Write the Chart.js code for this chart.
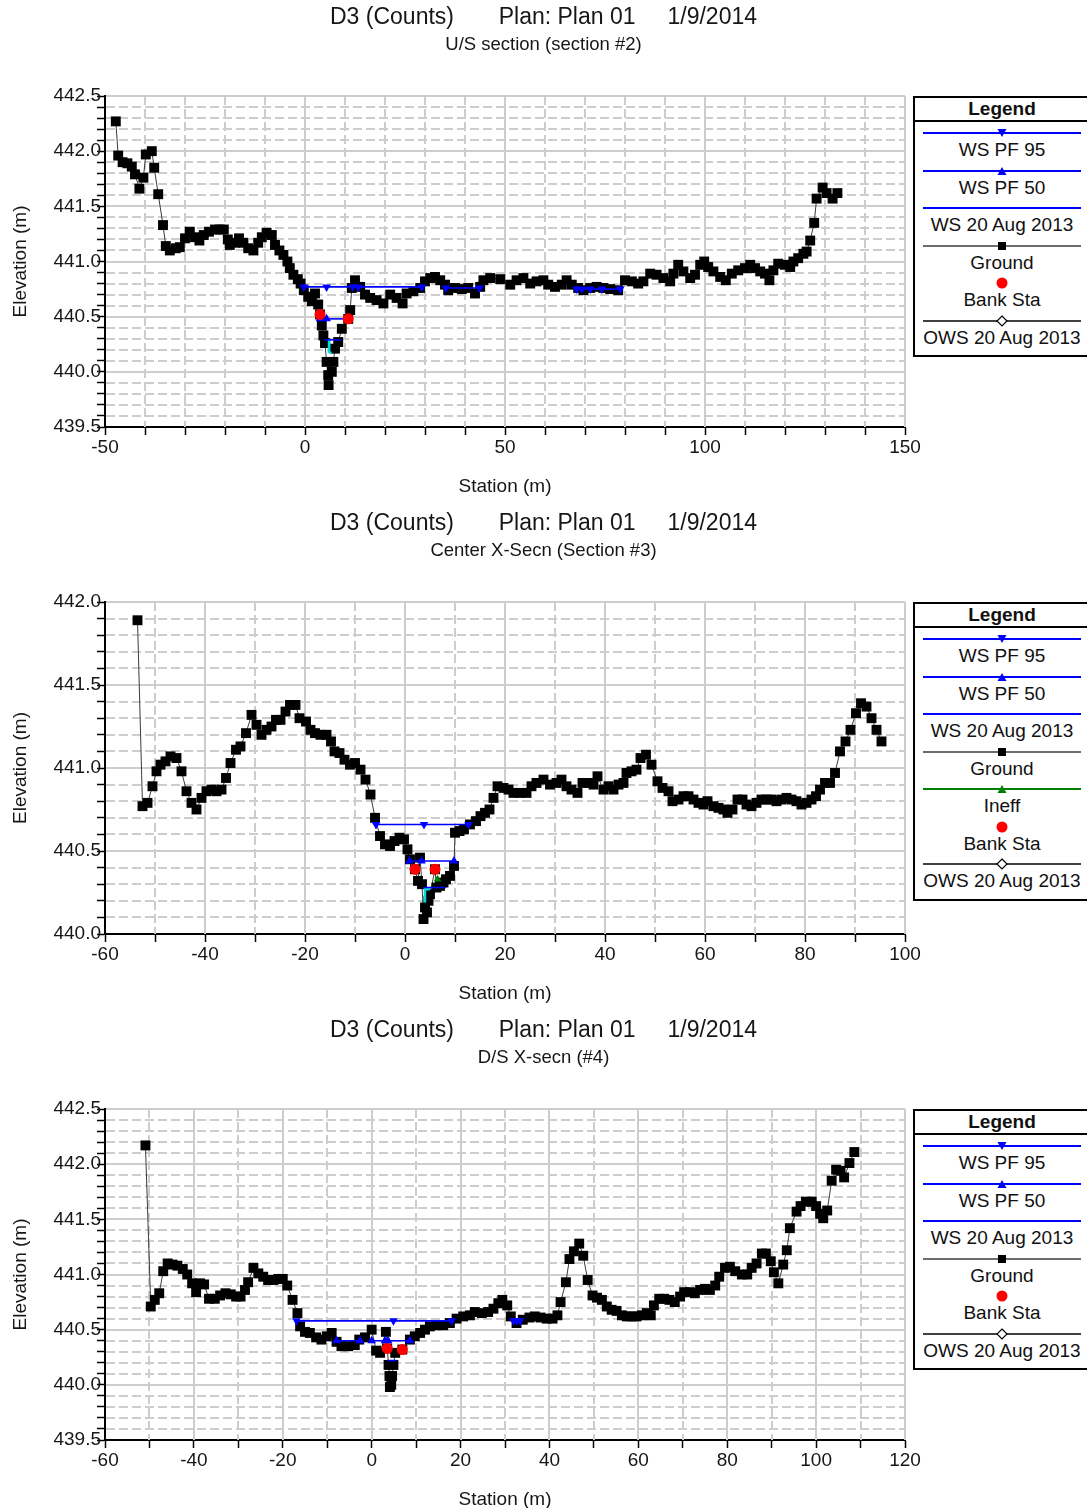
<!DOCTYPE html>
<html>
<head>
<meta charset="utf-8">
<title>D3 (Counts) - cross sections</title>
<script src="https://cdn.jsdelivr.net/npm/chart.js@4.4.1/dist/chart.umd.min.js"></script>
<style>
  html, body { margin: 0; padding: 0; background: #fff; overflow: hidden; }
  .xs { position: relative; width: 1087px; }
  .xs canvas { display: block; }
  .lgd { position: absolute; left: 913px; top: 96px; width: 174px; border: 2px solid #000; background: #fff;
         font-family: "Liberation Sans", Arial, sans-serif; color: #111; padding-bottom: 8px; }
  .lgd .hd { height: 22px; line-height: 22px; text-align: center; font-weight: bold; font-size: 19px; border-bottom: 2px solid #000; }
  .lgd .it { position: relative; height: 37.5px; }
  .lgd svg { position: absolute; left: 8px; top: 5px; }
  .lgd .tx { position: absolute; left: 0; right: 0; top: 17px; line-height: 22px; text-align: center; font-size: 19px; white-space: nowrap; }
</style>
</head>
<body>
<div class="xs" style="height:506px"><canvas id="us" width="1087" height="506"></canvas><div class="lgd" id="usLegend"></div></div>
<div class="xs" style="height:507px"><canvas id="ctr" width="1087" height="507"></canvas><div class="lgd" id="ctrLegend"></div></div>
<div class="xs" style="height:506px"><canvas id="ds" width="1087" height="506"></canvas><div class="lgd" id="dsLegend"></div></div>
<script>
// ---- U/S section (section #2) ----
const us_xLabels = [-50, 0, 50, 100, 150];
const us_yLabels = [439.5, 440.0, 440.5, 441.0, 441.5, 442.0, 442.5];
const us_groundSta = [-47.3, -46.7, -45.6, -44.4, -43.3, -42.5, -41.4, -40.4, -39.8, -38.3, -37.7, -36.7, -35.5, -34.8,
  -33.8, -32.3, -31.3, -30.0, -28.8, -27.5, -26.4, -25.3, -24.0, -22.5, -21.3, -20.3, -19.3, -18.8, -17.5, -16.5, -15.4,
  -14.2, -12.9, -11.7, -10.8, -9.6, -8.3, -7.5, -6.4, -5.4, -4.4, -3.8, -2.9, -1.8, -1.1, -0.3, 0.8, 1.7, 2.5, 3.3,
  3.75, 4.2, 4.6, 5.0, 5.4, 5.8, 5.9, 6.7, 7.1, 7.5, 8.3, 9.2, 10.8, 11.3, 11.7, 12.5, 13.8, 15.0, 16.3, 17.9, 19.6,
  21.3, 22.9, 24.4, 25.4, 27.1, 28.8, 30.0, 31.3, 32.5, 33.8, 35.0, 35.8, 37.5, 39.2, 40.8, 42.5, 43.8, 44.6, 46.3,
  48.8, 51.3, 52.9, 54.6, 56.3, 57.9, 59.6, 60.8, 62.5, 64.2, 65.4, 66.7, 68.3, 69.6, 71.3, 72.9, 74.6, 76.3, 78.3,
  80.0, 81.7, 83.3, 84.6, 86.3, 87.9, 89.6, 91.3, 92.1, 93.3, 94.6, 96.3, 97.5, 98.8, 99.8, 100.8, 102.1, 103.8,
  105.2, 106.7, 108.3, 110.0, 111.3, 112.5, 113.8, 115.0, 116.1, 117.1, 118.3, 120.0, 121.3, 122.1, 123.3, 124.6,
  125.4, 126.3, 127.3, 127.9, 129.4, 130.4, 131.9, 133.1];
const us_groundElev = [442.27, 441.96, 441.90, 441.89, 441.86, 441.79, 441.66, 441.76, 441.97, 442.00, 441.85, 441.61,
  441.33, 441.14, 441.10, 441.12, 441.13, 441.21, 441.27, 441.22, 441.19, 441.24, 441.27, 441.29, 441.29, 441.29,
  441.20, 441.15, 441.17, 441.21, 441.17, 441.12, 441.10, 441.17, 441.22, 441.26, 441.24, 441.15, 441.10, 441.06,
  441.00, 440.94, 440.88, 440.84, 440.80, 440.74, 440.68, 440.64, 440.71, 440.61, 440.52, 440.42, 440.33, 440.26,
  440.09, 439.97, 439.88, 440.00, 440.09, 440.21, 440.27, 440.39, 440.48, 440.56, 440.76, 440.83, 440.77, 440.70,
  440.67, 440.65, 440.62, 440.70, 440.67, 440.62, 440.71, 440.73, 440.76, 440.82, 440.85, 440.86, 440.83, 440.79,
  440.74, 440.76, 440.75, 440.76, 440.71, 440.77, 440.83, 440.85, 440.84, 440.79, 440.83, 440.85, 440.80, 440.82,
  440.83, 440.79, 440.77, 440.79, 440.83, 440.79, 440.76, 440.74, 440.76, 440.77, 440.76, 440.75, 440.74, 440.83,
  440.82, 440.80, 440.82, 440.89, 440.88, 440.85, 440.82, 440.89, 440.97, 440.91, 440.85, 440.88, 440.97, 441.00,
  440.95, 440.91, 440.86, 440.83, 440.89, 440.92, 440.94, 440.97, 440.94, 440.91, 440.89, 440.83, 440.92, 440.98,
  440.97, 440.95, 441.00, 441.03, 441.07, 441.09, 441.19, 441.35, 441.57, 441.67, 441.62, 441.57, 441.62];
const us_ws95Sta = [-0.3, 5.4, 11.9, 13.3, 29.2, 32.0, 35.2, 43.6, 55.0, 67.9, 69.2, 71.3, 74.2, 78.8];
const us_ws95Elev = [440.77, 440.77, 440.77, 440.77, 440.77, null, 440.76, 440.76, null, 440.75, 440.75, 440.75, 440.75, 440.75];
const us_ws50Sta = [3.75, 5.4, 10.8];
const us_ws50Elev = [440.48, 440.48, 440.48];
const us_wsAugSta = [4.8, 9.0];
const us_wsAugElev = [440.29, 440.29];
const us_bankSta = [3.75, 10.8];
const us_bankElev = [440.52, 440.48];
const us_owsSta = [];
const us_owsElev = [];
const us_cyanSta = [6.1, 6.0, 6.6];
const us_cyanElev = [440.29, 440.18, 440.17];

// ---- Center X-Secn (Section #3) ----
const ctr_xLabels = [-60, -40, -20, 0, 20, 40, 60, 80, 100];
const ctr_yLabels = [440.0, 440.5, 441.0, 441.5, 442.0];
const ctr_groundSta = [-53.5, -52.5, -51.5, -50.5, -49.7, -48.9, -47.9, -46.9, -45.7, -44.7, -43.7, -42.7, -41.7,
  -40.7, -39.7, -38.7, -37.7, -36.7, -35.8, -34.9, -33.8, -32.9, -31.8, -30.7, -29.7, -28.7, -27.7, -26.7, -25.8,
  -24.9, -23.9, -23.0, -21.9, -21.1, -19.8, -18.9, -18.0, -16.9, -15.7, -14.8, -14.1, -13.1, -12.1, -11.0, -10.0,
  -8.9, -7.9, -6.9, -6.0, -5.0, -4.0, -3.0, -2.1, -1.1, -0.2, 0.5, 1.0, 2.0, 2.6, 3.0, 3.4, 3.7, 4.0, 4.4, 4.7, 5.0,
  6.0, 6.3, 7.0, 7.7, 8.2, 9.0, 9.8, 10.0, 10.9, 11.8, 13.0, 14.2, 15.1, 16.0, 16.9, 17.7, 18.5, 19.7, 20.7, 21.7,
  23.0, 24.3, 25.3, 26.3, 27.7, 29.0, 30.3, 31.3, 32.3, 33.3, 34.5, 35.5, 36.7, 37.7, 38.5, 39.7, 40.7, 41.7, 42.7,
  43.7, 44.3, 45.3, 46.3, 47.1, 48.2, 49.3, 50.5, 51.5, 52.7, 53.5, 54.7, 55.7, 56.7, 57.7, 58.7, 59.7, 60.5, 61.7,
  62.7, 63.7, 64.5, 65.5, 66.5, 67.5, 68.3, 69.3, 70.3, 71.3, 72.3, 73.3, 74.3, 75.3, 76.3, 77.3, 78.3, 79.3, 80.3,
  81.3, 82.2, 83.0, 84.0, 85.0, 86.0, 87.0, 88.1, 89.1, 90.2, 91.2, 92.3, 93.3, 94.3, 95.3];
const ctr_groundElev = [441.89, 440.77, 440.79, 440.89, 440.98, 441.02, 441.04, 441.07, 441.06, 440.98, 440.86,
  440.79, 440.75, 440.82, 440.86, 440.87, 440.86, 440.87, 440.94, 441.03, 441.11, 441.13, 441.21, 441.32, 441.26,
  441.20, 441.23, 441.25, 441.29, 441.29, 441.34, 441.38, 441.38, 441.30, 441.28, 441.23, 441.21, 441.20, 441.20,
  441.16, 441.10, 441.09, 441.05, 441.02, 441.03, 440.99, 440.93, 440.84, 440.70, 440.59, 440.54, 440.53, 440.56,
  440.58, 440.57, 440.51, 440.45, 440.39, 440.32, 440.46, 440.30, 440.09, 440.16, 440.13, 440.20, 440.24, 440.39,
  440.28, 440.29, 440.31, 440.33, 440.35, 440.41, 440.61, 440.62, 440.63, 440.66, 440.68, 440.71, 440.73, 440.75,
  440.82, 440.89, 440.88, 440.87, 440.85, 440.85, 440.85, 440.89, 440.91, 440.93, 440.90, 440.91, 440.93, 440.89,
  440.87, 440.85, 440.91, 440.91, 440.90, 440.95, 440.87, 440.89, 440.87, 440.90, 440.91, 440.97, 440.98, 440.99,
  441.06, 441.08, 441.02, 440.92, 440.88, 440.86, 440.80, 440.81, 440.83, 440.83, 440.81, 440.79, 440.78, 440.80,
  440.77, 440.76, 440.75, 440.73, 440.75, 440.81, 440.81, 440.78, 440.77, 440.79, 440.81, 440.81, 440.81, 440.80,
  440.81, 440.82, 440.81, 440.80, 440.78, 440.79, 440.81, 440.83, 440.87, 440.91, 440.91, 440.97, 441.10, 441.16,
  441.23, 441.33, 441.39, 441.37, 441.30, 441.23, 441.16];
const ctr_ws95Sta = [-5.8, 3.8, 12.7];
const ctr_ws95Elev = [440.66, 440.66, 440.66];
const ctr_ws50Sta = [0.9, 3.3, 9.8];
const ctr_ws50Elev = [440.44, 440.44, 440.44];
const ctr_wsAugSta = [3.7, 8.2];
const ctr_wsAugElev = [440.28, 440.28];
const ctr_ineffSta = [6.5];
const ctr_ineffElev = [440.33];
const ctr_bankSta = [2.0, 6.0];
const ctr_bankElev = [440.39, 440.39];
const ctr_owsSta = [];
const ctr_owsElev = [];
const ctr_cyanSta = [5.0, 4.0, 4.0];
const ctr_cyanElev = [440.27, 440.27, 440.19];

// ---- D/S X-secn (#4) ----
const ds_xLabels = [-60, -40, -20, 0, 20, 40, 60, 80, 100, 120];
const ds_yLabels = [439.5, 440.0, 440.5, 441.0, 441.5, 442.0, 442.5];
const ds_groundSta = [-50.9, -49.7, -48.8, -47.8, -46.9, -45.9, -44.8, -43.7, -42.5, -41.5, -40.4, -39.5, -38.6,
  -37.7, -36.6, -35.3, -34.1, -32.9, -31.7, -30.5, -29.5, -28.5, -27.8, -26.6, -25.5, -24.4, -23.3, -22.1, -21.0,
  -20.0, -19.0, -17.8, -16.7, -16.1, -15.0, -13.9, -12.5, -11.3, -10.1, -9.0, -7.9, -6.8, -5.3, -3.8, -2.8, -1.5,
  0.0, 1.0, 1.9, 3.2, 3.5, 3.8, 4.0, 4.1, 4.4, 4.6, 4.9, 5.3, 6.9, 8.6, 9.7, 10.9, 12.0, 13.1, 14.6, 16.1, 17.6,
  19.1, 20.6, 22.1, 23.2, 24.8, 26.2, 27.4, 28.5, 29.4, 30.5, 31.3, 32.6, 34.0, 35.5, 36.7, 38.0, 39.4, 40.7, 41.8,
  42.5, 43.7, 44.5, 45.5, 46.7, 47.6, 48.6, 49.7, 50.7, 51.8, 52.9, 54.0, 55.1, 56.3, 57.4, 58.5, 59.6, 60.8, 61.9,
  62.8, 63.5, 64.7, 65.8, 67.0, 68.2, 69.4, 70.3, 71.6, 72.7, 73.9, 75.0, 76.1, 77.3, 78.2, 79.5, 80.6, 81.8, 83.3,
  84.5, 85.5, 86.6, 87.8, 88.7, 89.8, 90.5, 91.5, 92.6, 93.4, 94.1, 95.6, 96.5, 97.7, 99.0, 100.0, 100.9, 101.6,
  102.5, 103.5, 104.5, 105.5, 106.3, 107.5, 108.6];
const ds_groundElev = [442.17, 440.71, 440.77, 440.83, 441.03, 441.10, 441.09, 441.08, 441.05, 441.00, 440.92,
  440.84, 440.92, 440.91, 440.78, 440.78, 440.81, 440.83, 440.82, 440.80, 440.80, 440.86, 440.93, 441.06, 441.01,
  440.98, 440.95, 440.95, 440.96, 440.96, 440.90, 440.77, 440.65, 440.53, 440.48, 440.47, 440.43, 440.41, 440.44,
  440.47, 440.39, 440.35, 440.35, 440.36, 440.41, 440.43, 440.50, 440.31, 440.29, 440.48, 440.33, 440.18, 440.08,
  439.98, 440.00, 440.08, 440.18, 440.29, 440.32, 440.41, 440.44, 440.47, 440.50, 440.53, 440.54, 440.54, 440.56,
  440.60, 440.62, 440.63, 440.66, 440.65, 440.66, 440.69, 440.74, 440.77, 440.72, 440.62, 440.56, 440.59, 440.61,
  440.62, 440.61, 440.60, 440.60, 440.63, 440.75, 440.93, 441.14, 441.21, 441.28, 441.17, 440.95, 440.81, 440.79,
  440.77, 440.71, 440.68, 440.67, 440.63, 440.62, 440.62, 440.62, 440.63, 440.65, 440.63, 440.72, 440.78, 440.78,
  440.77, 440.75, 440.80, 440.84, 440.84, 440.83, 440.86, 440.87, 440.86, 440.90, 440.98, 441.06, 441.07, 441.03,
  441.00, 441.00, 441.06, 441.10, 441.19, 441.19, 441.12, 441.02, 440.92, 441.09, 441.22, 441.42, 441.57, 441.62,
  441.66, 441.66, 441.62, 441.55, 441.51, 441.58, 441.85, 441.95, 441.94, 441.88, 442.01, 442.11];
const ds_ws95Sta = [-16.9, 4.9, 18.0, 25.0, 31.9, 32.6, 33.4];
const ds_ws95Elev = [440.58, 440.58, 440.58, null, 440.58, 440.58, 440.58];
const ds_ws50Sta = [-7.9, -2.6, -1.3, 0.0, 3.0, 3.7, 8.6];
const ds_ws50Elev = [440.40, 440.40, null, 440.40, 440.40, 440.40, 440.40];
const ds_wsAugSta = [3.5, 5.6];
const ds_wsAugElev = [440.22, 440.22];
const ds_bankSta = [3.5, 6.9];
const ds_bankElev = [440.33, 440.32];
const ds_owsSta = [];
const ds_owsElev = [];

const FONT = '"Liberation Sans", Arial, Helvetica, sans-serif';
const TEXT = '#161616';

// line colour, width and marker for every profile
const seriesStyle = {
  'WS PF 95':        { color: '#0000ff', width: 1.6, marker: 'down', r: 5, order: 2 },
  'WS PF 50':        { color: '#0000ff', width: 1.6, marker: 'up', r: 5, order: 1 },
  'WS 20 Aug 2013':  { color: '#0000ff', width: 1.6, marker: null, order: 3 },
  'Ground':          { color: '#3c3c3c', width: 1, marker: 'square', fill: '#000', r: 7, order: 6 },
  'Ineff':           { color: '#008000', width: 1.6, marker: 'up', r: 4.5, order: 1 },
  'Bank Sta':        { color: '#ff0000', width: 0, marker: 'dot', r: 5.5, order: 0 },
  'OWS 20 Aug 2013': { color: '#000000', width: 1, marker: 'diamond', fill: '#fff', r: 5, order: 4 },
  'cyan':            { color: '#00dede', width: 2.5, marker: null, order: 5 }
};

function toDataset(label, sta, elev) {
  const st = seriesStyle[label];
  const styles = { down: 'triangle', up: 'triangle', square: 'rect', dot: 'circle', diamond: 'rectRot' };
  return {
    label: label,
    data: sta.map((x, i) => ({ x: x, y: elev[i] })),
    showLine: st.width > 0,
    spanGaps: false,
    borderColor: st.color,
    borderWidth: st.width,
    pointStyle: st.marker ? styles[st.marker] : 'circle',
    pointRotation: st.marker === 'down' ? 180 : 0,
    pointRadius: st.marker ? st.r : 0,
    pointHoverRadius: st.marker ? st.r : 0,
    pointBackgroundColor: st.fill || st.color,
    pointBorderColor: st.color,
    pointBorderWidth: st.marker === 'diamond' ? 1 : 0,
    order: st.order
  };
}

function sampleSvg(st) {
  const w = 158, c = 79, m = 6;
  let g = '';
  if (st.width > 0) g += `<line x1="0" y1="${m}" x2="${w}" y2="${m}" stroke="${st.color}" stroke-width="${st.width + 0.4}"/>`;
  if (st.marker === 'down') g += `<polygon points="${c - 4.5},${m - 4} ${c + 4.5},${m - 4} ${c},${m + 4}" fill="${st.color}"/>`;
  if (st.marker === 'up') g += `<polygon points="${c - 4.5},${m + 4} ${c + 4.5},${m + 4} ${c},${m - 4}" fill="${st.color}"/>`;
  if (st.marker === 'square') g += `<rect x="${c - 4}" y="${m - 4}" width="8" height="8" fill="#000"/>`;
  if (st.marker === 'dot') g += `<circle cx="${c}" cy="${m}" r="5.5" fill="${st.color}"/>`;
  if (st.marker === 'diamond') g += `<polygon points="${c},${m - 5} ${c + 5},${m} ${c},${m + 5} ${c - 5},${m}" fill="#fff" stroke="#000" stroke-width="1.2"/>`;
  return `<svg width="${w}" height="12">${g}</svg>`;
}

function buildLegend(id, labels) {
  let html = '<div class="hd">Legend</div>';
  labels.forEach(l => {
    html += `<div class="it">${sampleSvg(seriesStyle[l])}<div class="tx">${l}</div></div>`;
  });
  document.getElementById(id).innerHTML = html;
}

// solid grid at labelled values, dashed in between
function gridPainter(xLabels, yLabels) {
  const isLabel = (arr, v) => arr.some(l => Math.abs(l - v) < 1e-6);
  return {
    id: 'gridPainter',
    beforeDatasetsDraw(chart) {
      const { ctx, chartArea: a, scales: { x, y } } = chart;
      ctx.save();
      ctx.lineWidth = 2;
      ctx.strokeStyle = '#cdcdcd';
      x.ticks.forEach(t => {
        const p = Math.round(x.getPixelForValue(t.value));
        if (p <= a.left + 1) return;
        ctx.setLineDash(isLabel(xLabels, t.value) ? [] : [9, 4]);
        ctx.beginPath(); ctx.moveTo(p, a.top); ctx.lineTo(p, a.bottom); ctx.stroke();
      });
      y.ticks.forEach(t => {
        const p = Math.round(y.getPixelForValue(t.value));
        if (p >= a.bottom - 1) return;
        ctx.setLineDash(isLabel(yLabels, t.value) ? [] : [9, 4]);
        ctx.beginPath(); ctx.moveTo(a.left + 1, p); ctx.lineTo(a.right, p); ctx.stroke();
      });
      ctx.restore();
    }
  };
}

function stepTicks(step) {
  return scale => {
    const n = Math.round((scale.max - scale.min) / step);
    scale.ticks = [];
    for (let i = 0; i <= n; i++) scale.ticks.push({ value: +(scale.min + i * step).toFixed(3) });
  };
}

function crossSection(canvasId, subtitle, xLabels, yLabels, datasets) {
  const isLabel = (arr, v) => arr.some(l => Math.abs(l - v) < 1e-6);
  const tickFont = { family: FONT, size: 19 };
  new Chart(document.getElementById(canvasId), {
    type: 'scatter',
    data: { datasets: datasets },
    options: {
      responsive: false,
      animation: false,
      layout: { padding: 0 },
      plugins: {
        legend: { display: false },
        tooltip: { enabled: false },
        title: {
          display: true,
          text: 'D3 (Counts)       Plan: Plan 01     1/9/2014',
          color: TEXT,
          font: { family: FONT, size: 23, weight: 'normal' },
          padding: { top: 4, bottom: 0 }
        },
        subtitle: {
          display: true,
          text: subtitle,
          color: TEXT,
          font: { family: FONT, size: 18.5 },
          padding: { top: 2, bottom: 40.2 }
        }
      },
      scales: {
        x: {
          type: 'linear',
          min: xLabels[0],
          max: xLabels[xLabels.length - 1],
          afterBuildTicks: stepTicks(10),
          afterFit: s => { s.height = 79; },
          ticks: {
            autoSkip: false, maxRotation: 0, padding: 1, color: TEXT, font: tickFont,
            callback: v => isLabel(xLabels, v) ? String(v) : ''
          },
          grid: { drawOnChartArea: false, tickLength: 8, tickColor: '#000', tickWidth: 1.5 },
          border: { color: '#000', width: 2 },
          title: { display: true, text: 'Station (m)', color: TEXT, font: tickFont, padding: { top: 10, bottom: 8 } }
        },
        y: {
          type: 'linear',
          min: yLabels[0],
          max: yLabels[yLabels.length - 1],
          afterBuildTicks: stepTicks(0.1),
          afterFit: s => { s.width = 105; },
          ticks: {
            autoSkip: false, padding: -4, color: TEXT, font: tickFont,
            callback: v => isLabel(yLabels, v) ? v.toFixed(1) : ''
          },
          grid: { drawOnChartArea: false, tickLength: 8, tickColor: '#000', tickWidth: 1.5 },
          border: { color: '#000', width: 2 },
          title: { display: true, text: 'Elevation (m)', color: TEXT, font: tickFont, padding: { top: 9, bottom: 0 } }
        },
        // keeps room on the right for the legend box
        legendRoom: {
          type: 'linear',
          axis: 'y',
          position: 'right',
          afterFit: s => { s.width = 182; },
          ticks: { display: false },
          grid: { display: false },
          border: { display: false }
        }
      }
    },
    plugins: [gridPainter(xLabels, yLabels)]
  });
}

const legendUsual = ['WS PF 95', 'WS PF 50', 'WS 20 Aug 2013', 'Ground', 'Bank Sta', 'OWS 20 Aug 2013'];
const legendCenter = ['WS PF 95', 'WS PF 50', 'WS 20 Aug 2013', 'Ground', 'Ineff', 'Bank Sta', 'OWS 20 Aug 2013'];

crossSection('us', 'U/S section (section #2)', us_xLabels, us_yLabels, [
  toDataset('Bank Sta', us_bankSta, us_bankElev),
  toDataset('WS PF 50', us_ws50Sta, us_ws50Elev),
  toDataset('WS PF 95', us_ws95Sta, us_ws95Elev),
  toDataset('WS 20 Aug 2013', us_wsAugSta, us_wsAugElev),
  toDataset('OWS 20 Aug 2013', us_owsSta, us_owsElev),
  toDataset('cyan', us_cyanSta, us_cyanElev),
  toDataset('Ground', us_groundSta, us_groundElev)
]);
buildLegend('usLegend', legendUsual);

crossSection('ctr', 'Center X-Secn (Section #3)', ctr_xLabels, ctr_yLabels, [
  toDataset('Bank Sta', ctr_bankSta, ctr_bankElev),
  toDataset('Ineff', ctr_ineffSta, ctr_ineffElev),
  toDataset('WS PF 50', ctr_ws50Sta, ctr_ws50Elev),
  toDataset('WS PF 95', ctr_ws95Sta, ctr_ws95Elev),
  toDataset('WS 20 Aug 2013', ctr_wsAugSta, ctr_wsAugElev),
  toDataset('OWS 20 Aug 2013', ctr_owsSta, ctr_owsElev),
  toDataset('cyan', ctr_cyanSta, ctr_cyanElev),
  toDataset('Ground', ctr_groundSta, ctr_groundElev)
]);
buildLegend('ctrLegend', legendCenter);

crossSection('ds', 'D/S X-secn (#4)', ds_xLabels, ds_yLabels, [
  toDataset('Bank Sta', ds_bankSta, ds_bankElev),
  toDataset('WS PF 50', ds_ws50Sta, ds_ws50Elev),
  toDataset('WS PF 95', ds_ws95Sta, ds_ws95Elev),
  toDataset('WS 20 Aug 2013', ds_wsAugSta, ds_wsAugElev),
  toDataset('OWS 20 Aug 2013', ds_owsSta, ds_owsElev),
  toDataset('Ground', ds_groundSta, ds_groundElev)
]);
buildLegend('dsLegend', legendUsual);
</script>
</body>
</html>
